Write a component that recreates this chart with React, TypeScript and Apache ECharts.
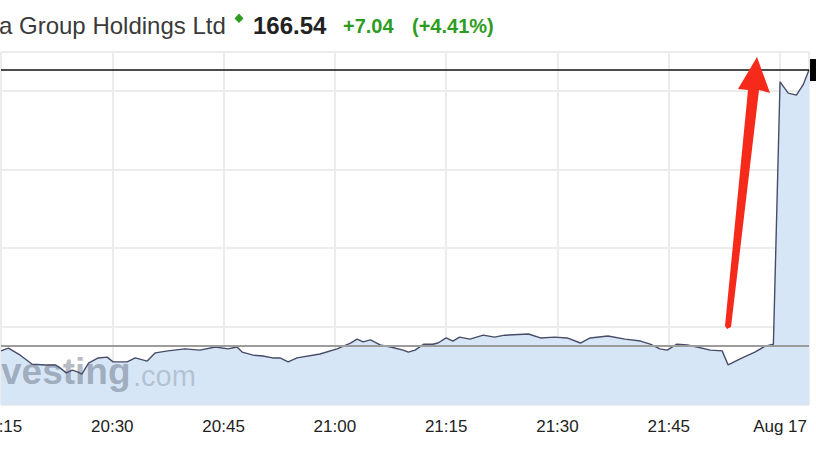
import React, { useEffect, useRef } from "react";
import * as echarts from "echarts";

// minutes after 20:15
const minutes = [
  0, 1.0, 2.6, 4.2, 6.0, 7.3, 8.0, 8.8, 9.6, 10.4, 10.9, 11.8, 13.1, 14.3, 15.1, 17.0, 18.1, 19.7, 20.8, 22.5,
  24.8, 26.8, 28.9, 30.6, 31.8, 32.5, 34.0, 35.3, 36.6, 37.6, 38.7, 39.9, 43.0, 45.3, 47.1, 48.0, 48.8, 49.8, 51.1, 52.5,
  54.2, 54.9, 55.8, 57.0, 58.2, 58.9, 60.0, 60.9, 61.8, 63.2, 65.0, 66.5, 67.9, 71.1, 72.7, 74.6, 76.3, 78.1, 79.4, 81.8,
  84.1, 86.2, 87.5, 88.8, 89.8, 91.1, 92.5, 93.8, 95.6, 97.2, 98.0, 99.9, 101.6, 103.0, 104.1, 105.0, 106.1, 107.2, 108.1, 108.9,
];

const prices = [
  159.38, 159.45, 159.27, 159.04, 159.02, 159.02, 158.94, 158.82, 158.89, 158.84, 158.79, 159.07, 159.2, 159.22, 159.1, 159.1, 159.2, 159.12, 159.33, 159.38,
  159.43, 159.4, 159.48, 159.43, 159.48, 159.35, 159.27, 159.25, 159.2, 159.2, 159.1, 159.2, 159.3, 159.43, 159.58, 159.68, 159.61, 159.66, 159.53, 159.48,
  159.4, 159.35, 159.4, 159.55, 159.55, 159.58, 159.71, 159.63, 159.73, 159.68, 159.78, 159.73, 159.78, 159.81, 159.71, 159.73, 159.71, 159.58, 159.71, 159.76,
  159.68, 159.63, 159.55, 159.43, 159.4, 159.55, 159.53, 159.48, 159.4, 159.38, 159.02, 159.2, 159.35, 159.5, 159.55, 166.24, 165.95, 165.9, 166.16, 166.54,
];

const xTickLabels = ["20:15", "20:30", "20:45", "21:00", "21:15", "21:30", "21:45", "Aug 17"];
const tickStep = 15;
const xMax = 108.9;
const yMin = 158;
const yMax = 167;
const yStep = 2;

const instrumentName = "a Group Holdings Ltd";
const lastPriceText = "166.54";
const changeText = "+7.04";
const changePctText = "(+4.41%)";
const lastPrice = 166.54;
const previousClose = 159.5;

const FONT = "'Liberation Sans', Arial, Helvetica, sans-serif";
const GREEN = "#2e9c1e";

export default function App() {
  const ref = useRef<HTMLDivElement>(null);

  useEffect(() => {
    if (!ref.current) return;
    const chart = echarts.init(ref.current, null, { renderer: "svg" });
    const data = minutes.map((m, i) => [m, prices[i]]);

    chart.setOption({
      animation: false,
      backgroundColor: "#ffffff",
      grid: { left: 1, right: 7, top: 52, bottom: 54, containLabel: false, outerBoundsMode: "none" },
      xAxis: {
        type: "value",
        min: 0,
        max: xMax,
        interval: tickStep,
        axisLine: { show: false },
        axisTick: { show: false },
        axisLabel: {
          showMaxLabel: false,
          color: "#222",
          fontSize: 17,
          fontFamily: FONT,
          margin: 13,
          formatter: (v: number) => {
            const k = v / tickStep;
            if (Math.abs(k - Math.round(k)) > 1e-6) return "";
            return xTickLabels[Math.round(k)] ?? "";
          },
        },
        splitLine: { show: true, lineStyle: { color: "#ececec", width: 2 } },
      },
      yAxis: {
        type: "value",
        min: yMin,
        max: yMax,
        interval: yStep,
        position: "right",
        axisLine: { show: false },
        axisTick: { show: false },
        axisLabel: { show: false },
        splitLine: { show: true, lineStyle: { color: "#ececec", width: 2 } },
      },
      series: [
        {
          type: "line",
          data,
          symbol: "none",
          silent: true,
          z: 1,
          lineStyle: { width: 0 },
          areaStyle: { color: "#d7e6f6", opacity: 1, origin: "start" },
        },
        {
          type: "line",
          data,
          symbol: "none",
          silent: true,
          z: 3,
          lineStyle: { color: "#474c68", width: 1.4 },
          markLine: {
            symbol: "none",
            silent: true,
            label: { show: false },
            data: [
              { yAxis: lastPrice, lineStyle: { color: "#111", width: 1.5, type: "solid" } },
              { yAxis: previousClose, lineStyle: { color: "#9c9c9c", width: 2, type: "solid" } },
            ],
          },
        },
      ],
    });

    const px = chart.convertToPixel({ xAxisIndex: 0 }, minutes[minutes.length - 1]) as number;
    const py = chart.convertToPixel({ yAxisIndex: 0 }, lastPrice) as number;

    chart.setOption({
      graphic: [
        {
          id: "wm1",
          type: "text",
          z: 2,
          x: 1,
          y: 371,
          style: {
            text: "vesting",
            font: `bold 37px ${FONT}`,
            fill: "rgba(80,92,112,0.42)",
            align: "left",
            verticalAlign: "middle",
          },
        },
        {
          id: "wm2",
          type: "text",
          z: 2,
          x: 133,
          y: 376,
          style: {
            text: ".com",
            font: `29px ${FONT}`,
            fill: "rgba(90,102,122,0.3)",
            align: "left",
            verticalAlign: "middle",
          },
        },
        {
          id: "t1",
          type: "text",
          z: 10,
          x: -1,
          y: 25.5,
          style: { text: instrumentName, font: `24px ${FONT}`, fill: "#3a3a3a", align: "left", verticalAlign: "middle" },
        },
        {
          id: "diamond",
          type: "polygon",
          z: 10,
          shape: { points: [[239, 13.5], [243.5, 18.5], [239, 23], [234.5, 18.5]] },
          style: { fill: GREEN },
        },
        {
          id: "t2",
          type: "text",
          z: 10,
          x: 253,
          y: 25.5,
          style: { text: lastPriceText, font: `bold 24px ${FONT}`, fill: "#222", align: "left", verticalAlign: "middle" },
        },
        {
          id: "t3",
          type: "text",
          z: 10,
          x: 343,
          y: 26,
          style: { text: changeText, font: `bold 20px ${FONT}`, fill: GREEN, align: "left", verticalAlign: "middle" },
        },
        {
          id: "t4",
          type: "text",
          z: 10,
          x: 412,
          y: 26,
          style: { text: changePctText, font: `bold 20px ${FONT}`, fill: GREEN, align: "left", verticalAlign: "middle" },
        },
        {
          id: "arrow",
          type: "polygon",
          z: 10,
          shape: {
            points: [
              [757, 57],
              [770, 93],
              [759, 90],
              [731, 327],
              [727, 329],
              [725, 326],
              [748, 90],
              [738, 89],
            ],
          },
          style: { fill: "#f52a1a" },
        },
        {
          id: "pricebox",
          type: "rect",
          z: 10,
          shape: { x: px + 1, y: py - 11, width: 14, height: 22 },
          style: { fill: "#000" },
        },
      ],
    });

    return () => chart.dispose();
  }, []);

  return (
    <div
      ref={ref}
      style={{ position: "fixed", left: 0, top: 0, width: 816, height: 459, background: "#fff" }}
    />
  );
}
